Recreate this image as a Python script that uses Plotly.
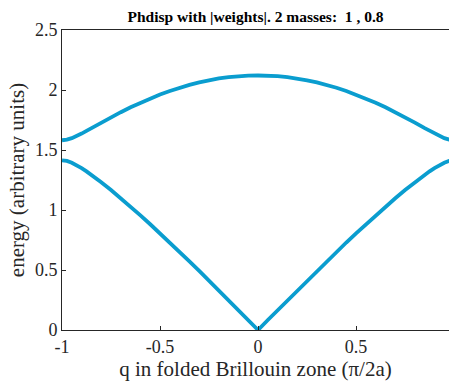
import plotly.graph_objects as go

# q values (units of pi/2a), energies (one half; the plot is symmetric)
q_half = [0.0, 0.05, 0.1, 0.15, 0.2, 0.25, 0.3, 0.35, 0.4, 0.45, 0.5, 0.55, 0.6, 0.65,
          0.7, 0.75, 0.8, 0.85, 0.875, 0.9, 0.925, 0.95, 0.975, 1.0]
optical_half = [2.121, 2.120, 2.115, 2.107, 2.096, 2.081, 2.063, 2.043, 2.019, 1.992, 1.962,
                1.930, 1.894, 1.856, 1.815, 1.772, 1.728, 1.682, 1.659, 1.637, 1.616, 1.599,
                1.586, 1.581]
acoustic_half = [0.0, 0.083, 0.165, 0.248, 0.330, 0.411, 0.492, 0.572, 0.651, 0.729, 0.806,
                 0.881, 0.955, 1.027, 1.098, 1.166, 1.231, 1.293, 1.322, 1.349, 1.374, 1.394,
                 1.409, 1.414]

q = [-v for v in q_half[::-1]] + q_half[1:]
optical = optical_half[::-1] + optical_half[1:]
acoustic = acoustic_half[::-1] + acoustic_half[1:]

xtick_vals = [-1, -0.5, 0, 0.5]
xtick_text = ["-1", "-0.5", "0", "0.5"]
ytick_vals = [0, 0.5, 1, 1.5, 2, 2.5]
ytick_text = ["0", "0.5", "1", "1.5", "2", "2.5"]

title_text = "Phdisp with |weights|. 2 masses:  1 , 0.8"
xlabel = "q in folded Brillouin zone (π/2a)"
ylabel = "energy (arbitrary units)"

color = "#0a9dcf"
axcol = "#262626"
font = "Liberation Serif"

fig = go.Figure()
for yv in (acoustic, optical):
    fig.add_trace(go.Scatter(x=q, y=yv, mode="lines",
                             line=dict(color=color, width=3.8),
                             showlegend=False, hoverinfo="skip"))

fig.update_layout(
    width=449, height=382,
    margin=dict(l=62, r=0, t=30, b=52),
    paper_bgcolor="white", plot_bgcolor="white",
    font=dict(family=font, color=axcol, size=16),
    title=dict(text="<b>" + title_text + "</b>", x=(62 + 449) / 2 / 449, xanchor="center",
               y=1 - 17 / 382, yanchor="middle",
               font=dict(family=font, size=15.5, color="black")),
)
fig.update_xaxes(
    range=[-1, 0.974], tickvals=xtick_vals, ticktext=xtick_text,
    ticks="inside", ticklen=4, tickcolor=axcol, showline=True, linecolor=axcol,
    linewidth=1, mirror=True, showgrid=False, zeroline=False,
    tickfont=dict(size=18, family=font, color=axcol),
    title=dict(text=xlabel, font=dict(size=21, family=font, color=axcol), standoff=1),
)
fig.update_yaxes(
    range=[0, 2.5], tickvals=ytick_vals, ticktext=ytick_text,
    ticks="inside", ticklen=4, tickcolor=axcol, showline=True, linecolor=axcol,
    linewidth=1, mirror=False, showgrid=False, zeroline=False,
    tickfont=dict(size=18, family=font, color=axcol),
    title=dict(text=ylabel, font=dict(size=21, family=font, color=axcol), standoff=4),
)

fig.write_html("out.html")
